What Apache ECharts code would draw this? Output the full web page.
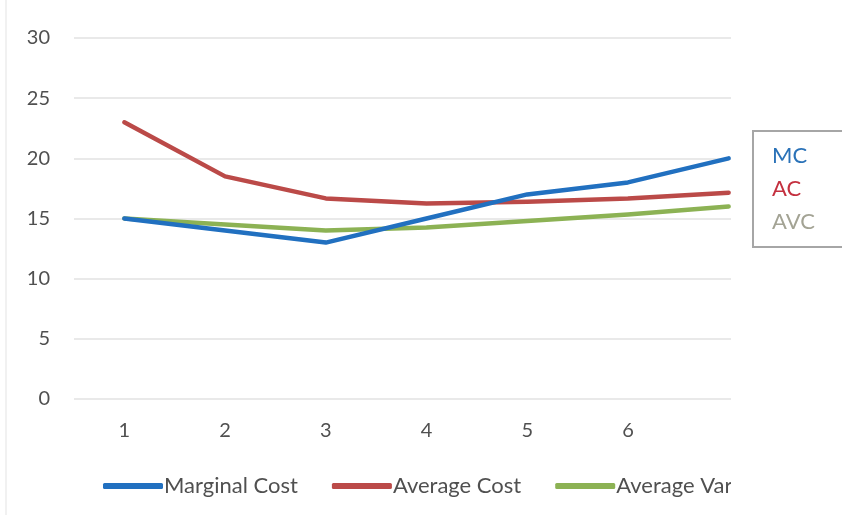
<!DOCTYPE html>
<html>
<head>
<meta charset="utf-8">
<script src="https://cdn.jsdelivr.net/npm/echarts@6/dist/echarts.min.js"></script>
<style>
  html, body { margin: 0; padding: 0; background: #fff; }
  #chart { width: 842px; height: 515px; }
</style>
</head>
<body>
<div id="chart"></div>
<script>
// Output quantity
const quantities = ['1', '2', '3', '4', '5', '6', '7'];

// Cost curves
const marginalCost = [15, 14, 13, 15, 17, 18, 20];
const averageCost = [23, 18.5, 16.67, 16.25, 16.4, 16.67, 17.14];
const averageVariableCost = [15, 14.5, 14, 14.25, 14.8, 15.33, 16];

const seriesNames = ['Marginal Cost', 'Average Cost', 'Average Variable Cost'];
const curveLabels = ['MC', 'AC', 'AVC'];

const FONT = 'Lato, "Open Sans", sans-serif';
const colors = ['#2170c0', '#bb4a48', '#8cb254'];
const labelColors = ['#2a72b8', '#c4303f', '#a3a394'];

const chart = echarts.init(document.getElementById('chart'));

const lineSeries = [marginalCost, averageCost, averageVariableCost].map((data, i) => ({
  name: seriesNames[i],
  type: 'line',
  data: data,
  symbol: 'none',
  z: 3 - i,
  lineStyle: { width: 4.5, color: colors[i], cap: 'round', join: 'round' },
  itemStyle: { color: colors[i] }
}));

chart.setOption({
  animation: false,
  textStyle: { fontFamily: FONT },
  grid: { left: 74, right: 63, top: 38, bottom: 116 },
  xAxis: {
    type: 'category',
    data: quantities,
    boundaryGap: true,
    axisLine: { show: false },
    axisTick: { show: false },
    axisLabel: {
      color: '#505050', fontSize: 20, fontFamily: FONT, margin: 22,
      interval: (index) => index < quantities.length - 1
    }
  },
  yAxis: {
    type: 'value',
    min: 0,
    max: 30,
    interval: 5,
    axisLine: { show: false },
    axisTick: { show: false },
    axisLabel: { color: '#505050', fontSize: 20, fontFamily: FONT, margin: 24 },
    splitLine: { lineStyle: { color: '#e2e2e2', width: 1.5 } }
  },
  legend: {
    left: 98,
    top: 470,
    itemWidth: 60,
    itemHeight: 6,
    itemGap: 34,
    icon: 'roundRect',
    textStyle: { color: '#505050', fontSize: 22, fontFamily: FONT, padding: [0, 0, 0, -4] },
    data: seriesNames
  },
  series: lineSeries,
  graphic: [
    // faint outer frame on the left
    { type: 'line', z: 100, shape: { x1: 6, y1: 0, x2: 6, y2: 515 },
      style: { stroke: '#ececec', lineWidth: 1.5 } },
    // right margin panel
    { type: 'rect', z: 100, shape: { x: 731, y: 0, width: 111, height: 515 },
      style: { fill: '#ffffff' } },
    // curve key box
    { type: 'rect', z: 101, shape: { x: 753, y: 131, width: 100, height: 116 },
      style: { fill: '#ffffff', stroke: '#a6a6a6', lineWidth: 2 } },
    ...curveLabels.map((t, i) => ({
      type: 'text', z: 102, left: 772, top: 145 + i * 33,
      style: { text: t, fill: labelColors[i], fontSize: 22, fontFamily: FONT }
    }))
  ]
});
</script>
</body>
</html>
